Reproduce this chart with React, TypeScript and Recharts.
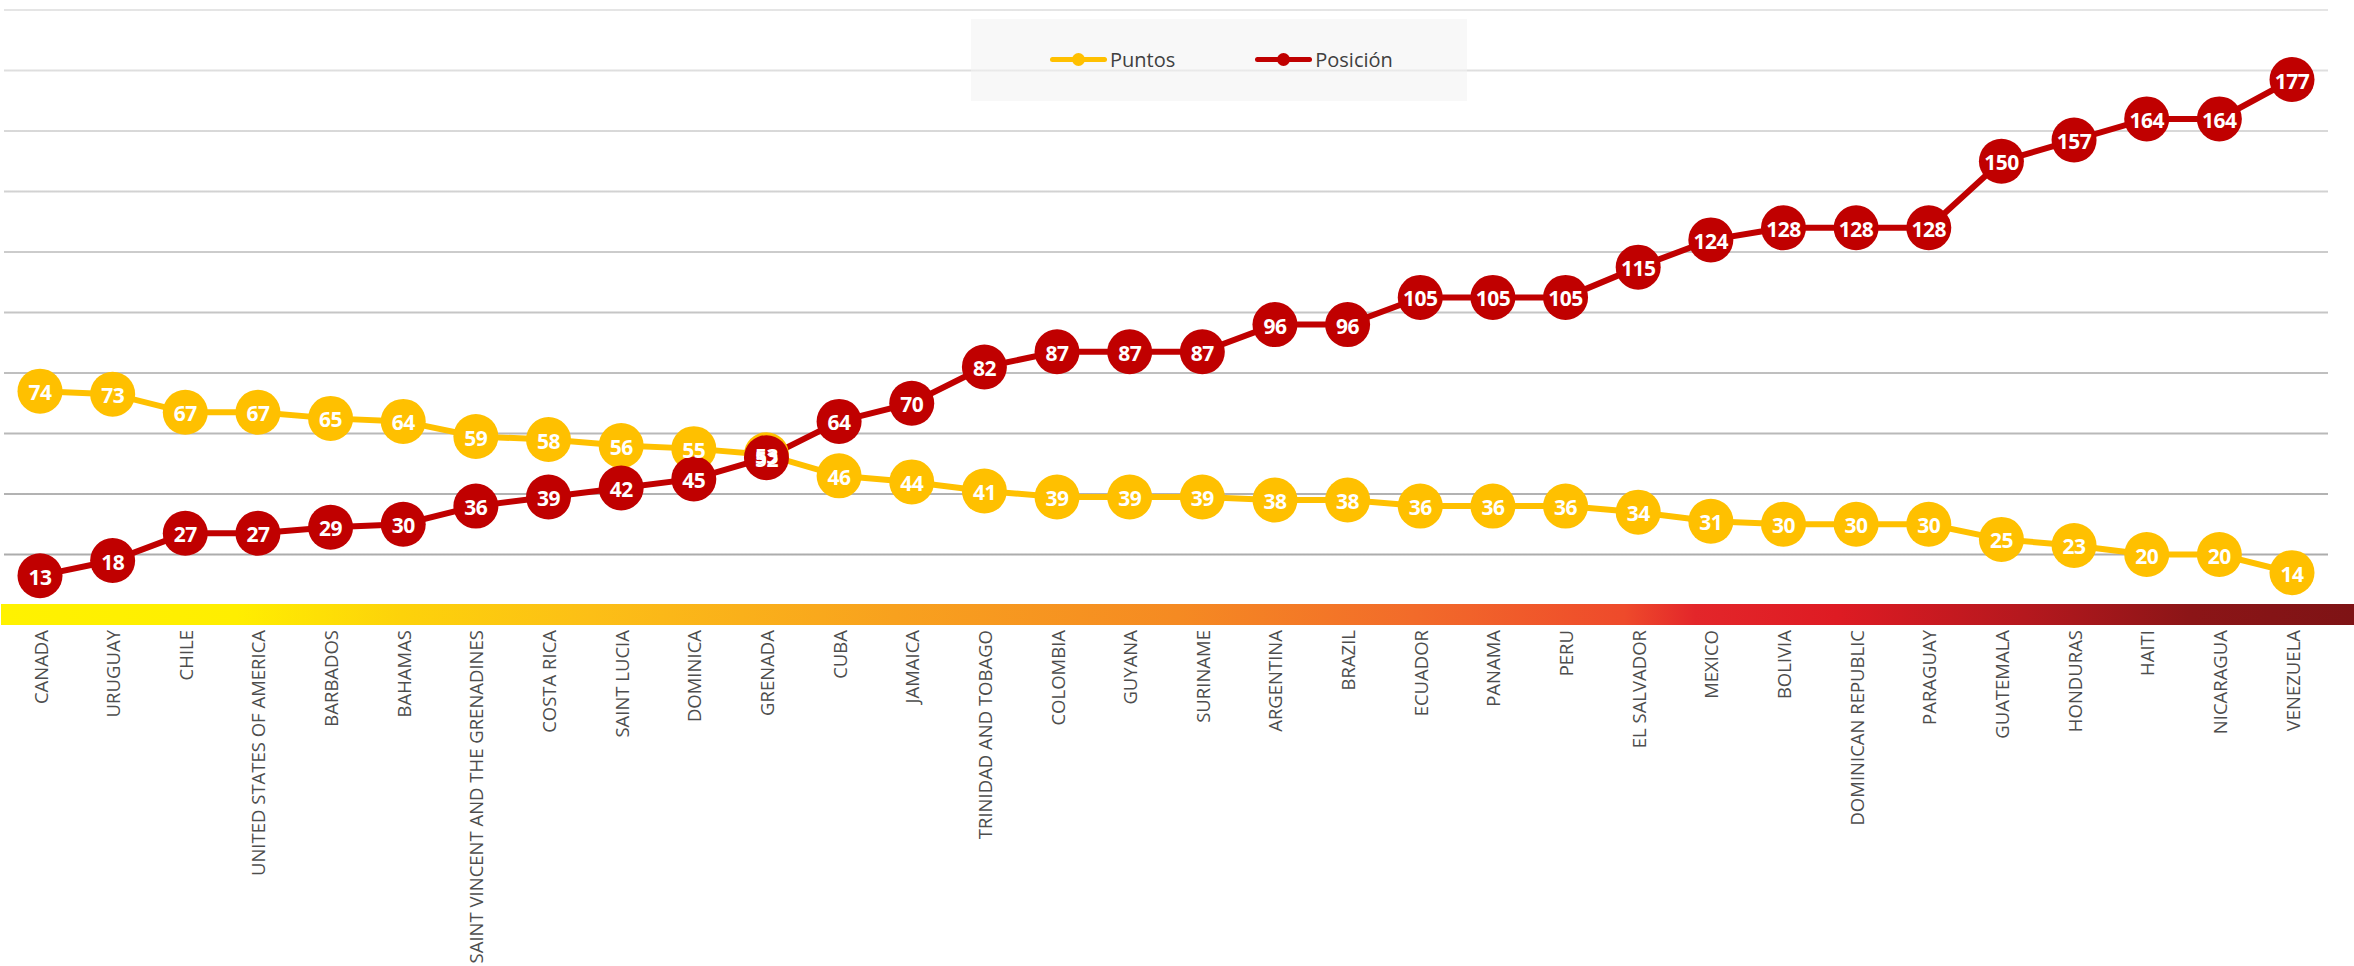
import React from 'react';
import { LineChart, Line, XAxis, YAxis, CartesianGrid, LabelList } from 'recharts';

// countries, ordered by score
const countries = [
  'CANADA',
  'URUGUAY',
  'CHILE',
  'UNITED STATES OF AMERICA',
  'BARBADOS',
  'BAHAMAS',
  'SAINT VINCENT AND THE GRENADINES',
  'COSTA RICA',
  'SAINT LUCIA',
  'DOMINICA',
  'GRENADA',
  'CUBA',
  'JAMAICA',
  'TRINIDAD AND TOBAGO',
  'COLOMBIA',
  'GUYANA',
  'SURINAME',
  'ARGENTINA',
  'BRAZIL',
  'ECUADOR',
  'PANAMA',
  'PERU',
  'EL SALVADOR',
  'MEXICO',
  'BOLIVIA',
  'DOMINICAN REPUBLIC',
  'PARAGUAY',
  'GUATEMALA',
  'HONDURAS',
  'HAITI',
  'NICARAGUA',
  'VENEZUELA',
];

const puntos = [74, 73, 67, 67, 65, 64, 59, 58, 56, 55, 53, 46, 44, 41, 39, 39, 39, 38, 38, 36, 36, 36, 34, 31, 30, 30, 30, 25, 23, 20, 20, 14];
const posicion = [13, 18, 27, 27, 29, 30, 36, 39, 42, 45, 52, 64, 70, 82, 87, 87, 87, 96, 96, 105, 105, 105, 115, 124, 128, 128, 128, 150, 157, 164, 164, 177];

const yTicks = [0, 20, 40, 60, 80, 100, 120, 140, 160, 180, 200];

const data = countries.map((name, i) => ({
  name,
  puntos: puntos[i],
  posicion: posicion[i],
}));

const YELLOW = '#FFC000';
const RED = '#C00000';
const FONT = '"Open Sans", sans-serif';

const CountryTick = (props: any) => {
  const { x, y, payload } = props;
  const ty = y + 7;
  return (
    <text
      x={x}
      y={ty}
      transform={`rotate(-90, ${x}, ${ty})`}
      textAnchor="end"
      dominantBaseline="central"
      fill="#4d4d4d"
      fontSize={18.5}
      fontFamily={FONT}
    >
      {payload.value}
    </text>
  );
};

const renderValue = (props: any) => {
  const { x, y, value } = props;
  return (
    <text
      x={x}
      y={y + 1}
      textAnchor="middle"
      dominantBaseline="central"
      fill="#ffffff"
      fontSize={21}
      fontWeight={700}
      fontFamily={FONT}
      letterSpacing={-0.5}
    >
      {value}
    </text>
  );
};

const LegendItem = ({ color, label }: { color: string; label: string }) => (
  <div style={{ display: 'flex', alignItems: 'center' }}>
    <div style={{ position: 'relative', width: 57, height: 13, marginRight: 3 }}>
      <div
        style={{
          position: 'absolute',
          left: 0,
          top: 4,
          width: 57,
          height: 5,
          borderRadius: 3,
          background: color,
        }}
      />
      <div
        style={{
          position: 'absolute',
          left: 22,
          top: 0,
          width: 13,
          height: 13,
          borderRadius: '50%',
          background: color,
        }}
      />
    </div>
    <span style={{ fontFamily: FONT, fontSize: 20, color: '#404040' }}>{label}</span>
  </div>
);

export default function App() {
  return (
    <div style={{ position: 'absolute', left: 0, top: 0, width: 2354, height: 966, background: '#fff' }}>
      <LineChart width={2354} height={966} data={data} margin={{ top: 10, right: 26, left: 4, bottom: 0 }}>
        <defs>
          <linearGradient id="gridGrad" gradientUnits="userSpaceOnUse" x1="0" y1="0" x2="0" y2="615">
            <stop offset="0%" stopColor="#e6e6e6" />
            <stop offset="100%" stopColor="#a6a6a6" />
          </linearGradient>
        </defs>
        <CartesianGrid vertical={false} stroke="url(#gridGrad)" strokeWidth={2} />
        <XAxis
          dataKey="name"
          interval={0}
          axisLine={false}
          tickLine={false}
          height={351}
          padding={{ left: 36, right: 36 }}
          tick={<CountryTick />}
        />
        <YAxis hide domain={[0, 200]} ticks={yTicks} />
        <Line
          dataKey="puntos"
          stroke={YELLOW}
          strokeWidth={6}
          dot={{ r: 22.5, fill: YELLOW, stroke: YELLOW, strokeWidth: 0 }}
          activeDot={false}
          isAnimationActive={false}
        />
        <Line
          dataKey="posicion"
          stroke={RED}
          strokeWidth={6}
          dot={{ r: 22.5, fill: RED, stroke: RED, strokeWidth: 0 }}
          activeDot={false}
          isAnimationActive={false}
        />
        {/* value labels drawn on top of both series */}
        <Line dataKey="puntos" stroke="none" dot={false} activeDot={false} isAnimationActive={false}>
          <LabelList dataKey="puntos" content={renderValue} />
        </Line>
        <Line dataKey="posicion" stroke="none" dot={false} activeDot={false} isAnimationActive={false}>
          <LabelList dataKey="posicion" content={renderValue} />
        </Line>
      </LineChart>

      {/* colour strip under the plot */}
      <div
        style={{
          position: 'absolute',
          left: 1,
          top: 604,
          width: 2353,
          height: 21,
          background:
            'linear-gradient(to right, #FFF200 0%, #FFEE00 10%, #FDD20A 17%, #FCBF16 25%, #F8A11E 38%, #F58A22 50%, #F26B2A 60%, #EE4A2B 69%, #E3262A 72%, #DE1B23 78%, #B5181E 86%, #8C1517 93%, #7E1315 100%)',
        }}
      />

      {/* legend */}
      <div
        style={{
          position: 'absolute',
          left: 971,
          top: 19,
          width: 496,
          height: 82,
          background: 'rgba(242,242,242,0.55)',
        }}
      />
      <div style={{ position: 'absolute', left: 1050, top: 46, display: 'flex', gap: 80 }}>
        <LegendItem color={YELLOW} label="Puntos" />
        <LegendItem color={RED} label="Posición" />
      </div>
    </div>
  );
}
